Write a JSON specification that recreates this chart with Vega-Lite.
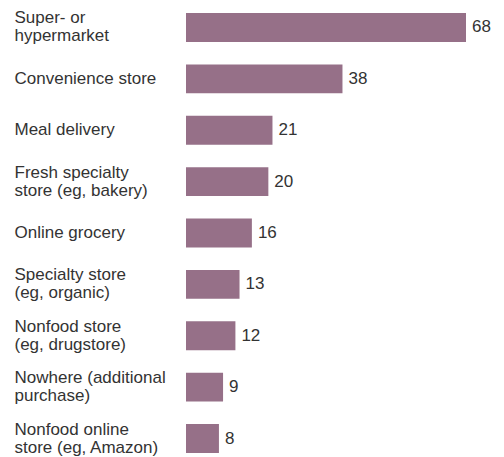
{
  "$schema": "https://vega.github.io/schema/vega-lite/v6.json",
  "autosize": "none",
  "width": 280,
  "height": 448,
  "padding": {"left": 186, "top": 9, "right": 38, "bottom": 0},
  "background": "white",
  "config": {"view": {"stroke": null}, "font": "Liberation Sans"},
  "data": {"values": [
    {"label": "Super- or|hypermarket", "value": 68},
    {"label": "Convenience store", "value": 38},
    {"label": "Meal delivery", "value": 21},
    {"label": "Fresh specialty|store (eg, bakery)", "value": 20},
    {"label": "Online grocery", "value": 16},
    {"label": "Specialty store|(eg, organic)", "value": 13},
    {"label": "Nonfood store|(eg, drugstore)", "value": 12},
    {"label": "Nowhere (additional|purchase)", "value": 9},
    {"label": "Nonfood online|store (eg, Amazon)", "value": 8}
  ]},
  "encoding": {
    "y": {"field": "label", "type": "nominal", "sort": null,
      "scale": {"paddingInner": 0.44, "paddingOuter": 0.08},
      "axis": {"title": null, "domain": false, "ticks": false, "labelAlign": "left", "labelPadding": 172,
        "labelFontSize": 17, "labelColor": "#333333", "labelLimit": 300, "labelLineHeight": 18,
        "labelOffset": {"condition": {"test": "indexof(datum.value, '|') >= 0", "value": -9}, "value": 0},
        "labelExpr": "split(datum.value, '|')"}},
    "x": {"field": "value", "type": "quantitative", "scale": {"domain": [0, 68]}, "axis": null}
  },
  "layer": [
    {"mark": {"type": "bar", "color": "#967088"}},
    {"mark": {"type": "text", "align": "left", "dx": 6, "fontSize": 17, "color": "#333333"},
      "encoding": {"text": {"field": "value", "type": "quantitative"}}}
  ]
}
